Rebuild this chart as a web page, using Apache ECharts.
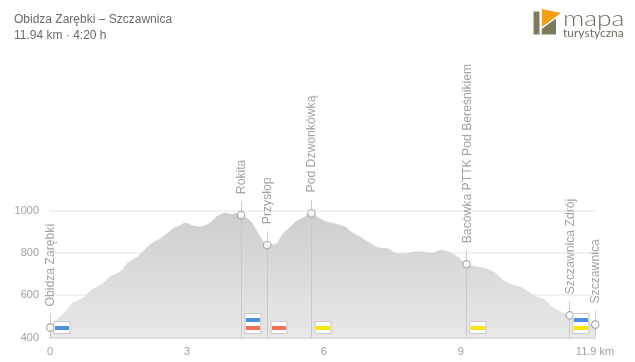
<!DOCTYPE html>
<html><head><meta charset="utf-8">
<style>html,body{margin:0;padding:0;background:#fff}#c{width:635px;height:362px}</style>
<script src="https://cdn.jsdelivr.net/npm/echarts@6/dist/echarts.min.js"></script>
</head><body><div id="c"></div>
<script>
const profileKm=[0,.11,.26,.37,.50,.62,.74,.88,1.02,1.17,1.31,1.46,1.57,1.68,1.79,1.91,2.12,2.26,2.41,2.56,2.70,2.85,2.96,3.07,3.18,3.29,3.40,3.50,3.65,3.76,3.86,3.98,4.09,4.18,4.31,4.42,4.53,4.64,4.75,4.86,4.97,5.11,5.26,5.40,5.51,5.62,5.72,5.80,5.99,6.17,6.46,6.61,6.90,7.16,7.41,7.59,7.81,8.0,8.18,8.36,8.57,8.76,8.94,9.12,9.27,9.60,9.75,9.93,10.11,10.33,10.62,10.84,10.99,11.21,11.38,11.65,11.94];
const profileM=[447,475,507,530,565,577,590,621,640,659,687,702,718,750,765,781,825,850,867,891,916,930,942,934,927,925,930,942,972,985,989,983,988,978,964,945,906,867,836,839,847,894,922,950,961,977,986,977,953,942,925,898,862,828,820,797,798,806,806,798,814,803,781,746,739,723,707,671,652,637,597,580,546,519,505,478,461];
const poiNames=['Obidza Zarębki','Rokita','Przysłop','Pod Dzwonkówką','Bacówka PTTK Pod Bereśnikiem','Szczawnica Zdrój','Szczawnica'];
const poiKm=[0,4.18,4.75,5.72,9.12,11.38,11.94];
const poiM=[447,978,836,986,746,505,461];
const poiTrails=[['blue'],['blue','red'],['red'],['yellow'],['yellow'],['blue','yellow'],[]];
const xTickValues=[0,3,6,9,11.94];
const xTickLabels=['0','3','6','9','11.9 km'];
const yTickValues=[400,600,800,1000];
const titleLines=['Obidza Zarębki – Szczawnica','11.94 km · 4:20 h'];
const trailColors={blue:'#4a90e2',red:'#f96f55',yellow:'#ffe600'};

const chart=echarts.init(document.getElementById('c'),null,{renderer:'canvas'});
function renderPoi(params,api){
  const i=params.dataIndex;
  const p=api.coord([poiKm[i],poiM[i]]);
  const base=api.coord([poiKm[i],400]);
  const x=Math.round(p[0])+.5, y=p[1];
  const kids=[
    {type:'line',shape:{x1:x,y1:y,x2:x,y2:base[1]},style:{stroke:'#c8c8c8',lineWidth:1}},
    {type:'line',shape:{x1:x,y1:y-14,x2:x,y2:y},style:{stroke:'#cfcfcf',lineWidth:1}},
    {type:'circle',shape:{cx:p[0]+.3,cy:y,r:3.7},style:{fill:'rgba(255,255,255,.75)',stroke:'#a8a8a8',lineWidth:1.2}},
    {type:'text',x:p[0]+1,y:y-21,rotation:Math.PI/2,style:{text:poiNames[i],fill:'#a3a3a3',font:'12.2px "Liberation Sans"',textAlign:'left',textVerticalAlign:'middle'}}
  ];
  const t=poiTrails[i];
  if(t.length){
    const h=t.length*8+4, bx=Math.round(p[0])+4, by=base[1]-4-h;
    kids.push({type:'rect',shape:{x:bx,y:by,width:16,height:h},style:{fill:'#fff',stroke:'#cccccc',lineWidth:1.2}});
    t.forEach((c,k)=>kids.push({type:'rect',shape:{x:bx+1,y:by+4.5+k*8,width:14,height:4},style:{fill:trailColors[c]}}));
  }
  return {type:'group',children:kids};
}
chart.setOption({
  animation:false,
  backgroundColor:'#fff',
  title:{text:titleLines.join('\n'),left:9,top:7,textStyle:{color:'#6a6a6a',fontFamily:'Liberation Sans',fontSize:12,fontWeight:'normal',lineHeight:16}},
  grid:{left:50,right:40,top:210.5,bottom:24.5},
  xAxis:{type:'value',min:0,max:11.94,splitLine:{show:false},
    axisLine:{show:true,onZero:false,lineStyle:{color:'#dddddd',width:2}},axisTick:{show:false},
    axisLabel:{customValues:xTickValues,color:'#a0a0a0',fontFamily:'Liberation Sans',fontSize:11,margin:9,
      formatter:v=>xTickLabels[xTickValues.indexOf(v)]}},
  yAxis:{type:'value',min:400,max:1000,interval:200,
    axisLine:{show:false},axisTick:{show:false},
    splitLine:{lineStyle:{color:'#f2f2f2',width:2}},
    axisLabel:{color:'#a0a0a0',fontFamily:'Liberation Sans',fontSize:11,margin:11,
      formatter:v=>yTickValues.includes(v)?String(v):''}},
  series:[
    {type:'line',data:profileKm.map((k,i)=>[k,profileM[i]]),showSymbol:false,silent:true,smooth:.2,
     lineStyle:{width:0},
     areaStyle:{opacity:1,color:new echarts.graphic.LinearGradient(0,0,0,1,[{offset:0,color:'rgba(198,198,196,.85)'},{offset:1,color:'rgba(228,228,228,.85)'}])}},
    {type:'custom',data:poiKm.map((k,i)=>[k,poiM[i]]),renderItem:renderPoi,z:5,clip:false,silent:true}
  ],
  graphic:[
    {type:'rect',shape:{x:533.5,y:11.5,width:6,height:23},style:{fill:'#7d7a5e'}},
    {type:'polygon',shape:{points:[[542,9],[561,13],[542,27]]},style:{fill:'#f59e12'}},
    {type:'polygon',shape:{points:[[541.7,34.5],[556,34.5],[556,18.5],[541.7,29]]},style:{fill:'#7d7a5e'}},
    {type:'text',x:563,y:8,scaleX:1.2,style:{text:'mapa',fill:'#6f6f5c',font:'300 22px Lato'}},
    {type:'text',x:563,y:27,style:{text:'turystyczna',fill:'#6f6f5c',font:'12px Lato'}}
  ]
});
</script></body></html>
